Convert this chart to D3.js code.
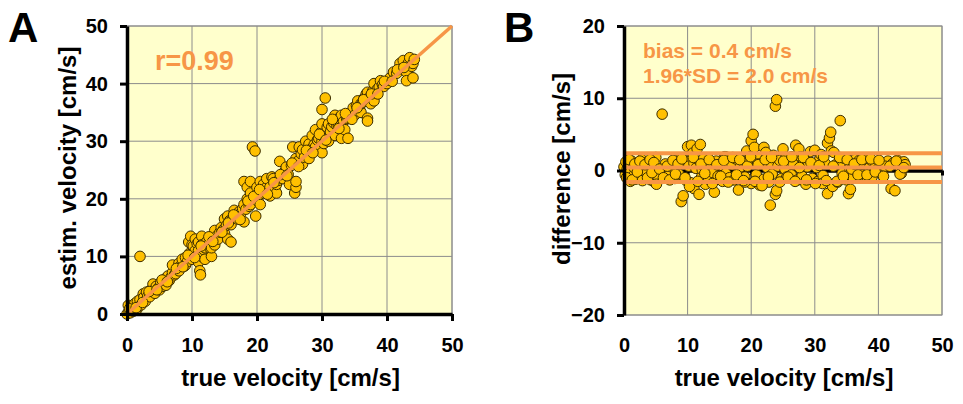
<!DOCTYPE html>
<html>
<head>
<meta charset="utf-8">
<script src="https://cdn.jsdelivr.net/npm/d3@7"></script>
<style>
    body { margin: 0; background: #fff; }
    text { font-family: "Liberation Sans", Arial, sans-serif; font-weight: bold; }
</style>
</head>
<body>
<div id="chart"></div>
<script>
// Data

    // panel A: true velocity vs estimated velocity [cm/s]
    var trueVel = [
        0, 0.2, 0.3, 0.5, 0.6, 0.8, 1, 1.1, 1.2, 1.5, 1.6, 1.8, 2, 2, 2.2, 2.5, 2.6, 2.8, 3, 3.2,
        3.5, 3.7, 4, 4, 4.3, 4.5, 4.8, 5, 5.2, 5.5, 5.7, 6, 6, 6.3, 6.5, 6.8, 7, 7, 7.3, 7.5,
        7.8, 8, 8, 8.3, 8.5, 8.8, 9, 9, 9.3, 9.5, 9.6, 9.8, 10, 10, 10, 10.2, 10.5, 10.5, 10.8, 11,
        11, 11, 11.2, 11.3, 11.5, 11.5, 11.5, 11.8, 12, 12, 12.3, 12.5, 12.8, 13, 13, 13.3, 13.5, 13.5, 13.8, 14,
        14.3, 14.5, 14.8, 15, 15, 15.3, 15.5, 15.5, 15.8, 16, 16, 16.3, 16.5, 16.8, 17, 17.3, 17.5, 17.8, 18, 18,
        18, 18.3, 18.5, 18.5, 18.8, 19, 19, 19, 19.3, 19.7, 19.8, 20, 20, 20.2, 20.5, 20.5, 20.8, 21, 21, 21.3,
        21.5, 21.8, 22, 22, 22.3, 22.5, 22.8, 23, 23, 23.3, 23.5, 23.8, 24, 24.3, 24.5, 24.8, 25, 25.3, 25.5, 25.8,
        26, 26, 26, 26.3, 26.5, 26.8, 27, 27, 27.3, 27.5, 27.8, 28, 28, 28.3, 28.5, 28.8, 29, 29, 29.3, 29.5,
        29.8, 30, 30, 30, 30, 30.3, 30.5, 30.5, 30.8, 31, 31, 31.3, 31.5, 31.8, 32, 32, 32.3, 32.5, 32.8, 33,
        33, 33.3, 33.5, 33.8, 34, 34, 34.3, 34.5, 34.8, 35, 35.3, 35.5, 35.8, 36, 36, 36.3, 36.5, 36.8, 37, 37,
        37, 37.3, 37.5, 37.8, 38, 38, 38.3, 38.5, 38.8, 39, 39.3, 39.5, 39.8, 40, 40.3, 40.5, 41, 41.5, 42, 42.5,
        43, 43, 43.3, 43.5, 43.8, 44, 44, 44.2,
        0.4, 1.4, 2.4, 3.4, 4.6, 5.4, 6.2, 7.6, 8.6, 9.4, 10.4, 11.4, 12.6, 13.2, 14.6, 15.6, 16.4, 17.4, 18.6, 19.5,
        20.4, 21.6, 22.6, 23.6, 24.6, 25.4, 26.4, 27.6, 28.6, 29.6, 30.6, 31.6, 32.6, 33.6, 34.6, 35.4, 36.4, 37.6, 38.6, 39.6,
        40.8, 41.6, 42.6
    ];
    var estimVel = [
        0, 1.5, 0.5, 0.2, 1.2, 1, 0.5, 1.6, 1.8, 0.8, 2.2, 1.3, 2.5, 10, 1.6, 3.5, 2.9, 2.2, 3.8, 3.1,
        3, 4.2, 5.2, 4, 3.6, 4.8, 4.5, 4.2, 5.5, 4.8, 5.9, 6.2, 5, 6.6, 5.8, 6.4, 7.2, 8.5, 6.8, 7,
        8.1, 8.8, 7.5, 8.4, 9.5, 8.3, 8.5, 9.8, 9.1, 12.5, 10.5, 13.5, 12, 10.5, 9.5, 11.8, 11, 13, 12.2, 12.5,
        11, 9, 7.5, 6.8, 10, 13.5, 12, 11.2, 11.5, 9.5, 12.6, 12, 11.4, 10, 11.5, 13.2, 12, 14.5, 13.5, 13,
        14.2, 15, 14.6, 16.5, 14, 15.4, 17, 13, 16.2, 15.5, 12.5, 16.6, 18, 16.7, 16.5, 17.8, 17.5, 18.3, 16, 19,
        23, 18.2, 22, 20, 18.7, 21, 19, 23, 29, 28.3, 17, 22, 20.5, 19.5, 23, 19, 21.4, 21, 22.5, 21.8,
        23.5, 21.2, 20.5, 22, 23.8, 23.5, 21.5, 21, 22.5, 23.2, 26.5, 23.6, 23.5, 24.8, 25.5, 24.2, 22.5, 25.8, 29, 21,
        22, 23, 27, 26.5, 29, 27.8, 26, 28.5, 27.2, 30, 28.3, 27, 29.5, 28.6, 31, 29.4, 29, 32, 30.2, 30.5,
        31.5, 35.5, 33, 28, 30, 29.6, 37.5, 31, 32.4, 33, 30, 31.6, 32.5, 33.2, 34.5, 31, 32.7, 33, 34.2, 34.5,
        30.5, 33.4, 32, 33.9, 34, 30.5, 34.6, 35, 35.8, 34.5, 36.2, 37, 35.5, 35, 36.5, 36.8, 37.5, 38.2, 34, 33.5,
        38.5, 37.6, 36.5, 38.7, 40, 37, 38.6, 39, 39.4, 40.5, 39.8, 39.5, 40.3, 40, 40.6, 41, 42, 41.8, 43.5, 44,
        42, 40.5, 43.6, 44.5, 43, 41, 43.5, 44.2,
        0.9, 1.1, 2, 3.9, 4.2, 5.9, 5.6, 7.9, 8.2, 10.2, 9.8, 11.8, 13.4, 12.6, 14.2, 15.8, 17.2, 16.4, 19.6, 20.4,
        21.6, 20.8, 22.8, 24.2, 24, 26.2, 25.6, 28.4, 28, 31.2, 30.2, 33.8, 32.2, 34.8, 33.8, 35.8, 37.2, 38.2, 38.2, 40.4,
        40.4, 42.4, 42.8
    ];

    // panel B: mean velocity vs difference [cm/s]
    var meanVel = [
        0, 0.2, 0.3, 0.5, 0.7, 0.9, 1, 1.2, 1.4, 1.6, 1.8, 2, 2.2, 2.4, 2.6, 2.8, 3, 3.2, 3.5, 3.8,
        4, 4.2, 4.5, 4.8, 5, 5.3, 6, 6.5, 7, 7.5, 8, 8.3, 8.6, 9, 9.3, 9.5, 9.8, 10, 10.2, 10.5,
        10.6, 10.8, 11, 11, 11.3, 11.5, 11.8, 12, 12.2, 12.5, 12.8, 13, 13.3, 13.6, 14, 14.2, 14.5, 14.8, 15, 15.5,
        15.8, 16, 16.3, 16.6, 17, 17.3, 17.6, 18, 18.3, 18.6, 19, 19.3, 19.6, 20, 20, 20.3, 20.5, 20.8, 21, 21.3,
        21.6, 22, 22, 22.3, 22.5, 22.8, 23, 23, 23.3, 23.5, 23.8, 23.8, 24, 24, 24.2, 24.5, 24.8, 25, 25.3, 25.6,
        26, 26.3, 26.6, 27, 27.3, 27.5, 27.8, 28, 28.3, 28.6, 29, 29.3, 29.6, 30, 30.3, 30.5, 30.8, 31, 31.3, 31.6,
        32, 32, 32.3, 32.5, 32.6, 32.8, 33, 33.3, 33.6, 34, 34, 34.3, 34.6, 35, 35.3, 35.5, 35.8, 36, 36.3, 36.6,
        37, 37.3, 37.6, 38, 38.3, 38.6, 39, 39.3, 39.6, 40, 40.3, 40.6, 41, 41.5, 42, 42.3, 42.6, 43, 43.3, 43.6,
        44, 44.2, 1, 3.5, 5, 8.8, 12.3, 16, 19, 21, 25.5, 28.8, 31.2, 35.8, 39, 41,
        0.4, 0.8, 1.3, 1.7, 2.1, 2.5, 2.9, 3.3, 3.7, 4.1, 4.4, 4.7, 5.1, 5.6, 6.2, 6.8, 7.2, 7.7, 8.1, 8.5,
        9.1, 9.6, 10.3, 10.9, 11.6, 12.1, 12.7, 13.4, 13.9, 14.6, 15.2, 15.7, 16.4, 17.1, 17.7, 18.2, 18.8, 19.4, 19.9, 20.6,
        21.1, 21.7, 22.2, 22.7, 23.2, 24.5, 25.1, 25.8, 26.4, 26.9, 27.6, 28.2, 28.7, 29.4, 30.1, 30.7, 31.4, 31.8, 32.9, 33.5,
        33.9, 34.5, 35.1, 35.6, 36.2, 36.8, 37.4, 38.2, 38.8, 39.5, 40.1, 40.8, 41.8, 42.8, 43.4, 44
    ];
    var diffVel = [
        0.5, -0.6, 1.2, 0.2, -1, 0.8, -0.3, 1.3, -0.8, 0.4, -1.2, 1, -0.5, 0.7, -0.9, 1.5, 0.1, -0.6, 1.1, -0.4,
        0.6, -1.3, 1.4, -1.6, 0.3, -0.8, 7.8, 0.9, -0.7, 0.5, -1.1, 1.2, -0.5, -4.3, -3.5, 1.4, -1.4, 3.3, 0.6, -1.7,
        3.5, 2.4, -2.5, 1, 0.3, 3, -3.3, 3.6, -0.9, 1.6, -1.9, 0.4, -1.2, 1.1, -0.3, -3, 1.3, -0.8, 0.7, -1.5,
        1.9, -0.4, 1.2, -1, 0.8, -1.3, 1.6, -2.7, 0.5, 1.3, -0.9, 2.7, 1.1, 4.1, -1.8, 5, 3.2, -0.6, 1.7, -2,
        0.9, 3.2, -1.2, 2.5, 0.4, -1.6, -4.8, 1.2, -0.5, 2.1, 8.9, -3.3, 9.8, -2.8, 0.6, 1.4, -1.1, 3, 0.2, -0.9,
        1.5, -0.6, 0.9, 3.5, -1.3, 3, 1.9, -0.8, 1.3, -1.9, 0.7, 2.6, -1.1, 2.8, 0.4, -1.5, 1.6, 2.2, -0.7, 1,
        3.8, -3.2, 4.5, 5.3, 2.7, -2.2, 2.5, 0.8, -1.6, 6.9, 1.1, -0.4, 1.7, -1.3, -3.2, 0.3, 1.2, -0.9, 1.5, -0.2,
        1.4, -0.6, 0.9, 1.6, -1, 0.4, 1.3, -0.3, 0.8, 0.3, 1.1, -0.5, 0.7, 1.3, -2.5, 1, -2.8, 1.4, 0.6, -0.4,
        1.2, 0.8, -1.5, -0.2, 1.8, 1.6, 0.1, 1.9, -1.6, 0.9, 1.8, 0.5, -1.8, 0.2, -0.9, 0.6,
        -1, 1.5, -1.3, 0.9, -0.2, 1.3, -1.4, 0.8, -1, 1.5, -0.3, 1.1, -1.9, 0.2, -1, 0.6, -1.3, 1.4, -0.5, 0.9,
        1.6, -1, -2.2, 1.8, -1.5, 0.9, -0.4, 1.5, -1.8, 0.8, -0.8, 1.4, -1.6, 1.8, -0.6, 1.5, -1.4, 0.6, 1.9, -1.5,
        0.8, -2.1, 1.5, -0.9, 1.8, -1.6, 1.3, -0.9, 1.9, -1.5, 0.4, 1.8, -1.3, 1.1, -1.8, 0.7, 1.9, -1.4, 0.6, -1.5,
        1.8, -0.8, 1.5, -2.6, 0.9, -0.6, 1.5, -0.6, 1.6, -0.2, 1.4, -0.8, 0.6, 1.3, -0.5, 0.4
    ];

    // Bland-Altman summary
    var bias = 0.4;
    var limit = 2.0;

    // tick labels
    var velTicks = [0, 10, 20, 30, 40, 50];
    var diffTicks = [-20, -10, 0, 10, 20];


// Constants setup

    var svgWidth  = 963;
    var svgHeight = 404;

    var plotA = { left: 127, right: 452, top: 26, bottom: 314 };
    var plotB = { left: 624, right: 942, top: 26, bottom: 315 };

    var bgColor     = "#ffffcc";
    var gridColor   = "#8c8c8c";
    var dotFill     = "#ffc000";
    var dotStroke   = "#3d2e00";
    var orange      = "#f79646";


// Start of SVG

    var svg = d3.select("#chart")
        .append("svg")
            .attr("width", svgWidth)
            .attr("height", svgHeight);


    // scales
    var xA = d3.scaleLinear().domain([0, 50]).range([plotA.left, plotA.right]);
    var yA = d3.scaleLinear().domain([0, 50]).range([plotA.bottom, plotA.top]);
    var xB = d3.scaleLinear().domain([0, 50]).range([plotB.left, plotB.right]);
    var yB = d3.scaleLinear().domain([-20, 20]).range([plotB.bottom, plotB.top]);


    // background + grid for a panel
    function drawFrame(x, y, xTicks, yTicks) {
        var g = svg.append("g");

        g.append("rect")
            .attr("x", x.range()[0])
            .attr("y", y.range()[1])
            .attr("width", x.range()[1] - x.range()[0])
            .attr("height", y.range()[0] - y.range()[1])
            .attr("fill", bgColor)
            .attr("stroke", gridColor)
            .attr("stroke-width", 1);

        g.selectAll(".vgrid")
            .data(xTicks)
            .enter()
            .append("line")
                .attr("x1", function(d) { return x(d); })
                .attr("x2", function(d) { return x(d); })
                .attr("y1", y.range()[0])
                .attr("y2", y.range()[1])
                .attr("stroke", gridColor)
                .attr("stroke-width", 1);

        g.selectAll(".hgrid")
            .data(yTicks)
            .enter()
            .append("line")
                .attr("x1", x.range()[0])
                .attr("x2", x.range()[1])
                .attr("y1", function(d) { return y(d); })
                .attr("y2", function(d) { return y(d); })
                .attr("stroke", gridColor)
                .attr("stroke-width", 1);
    }

    function styleAxis(g) {
        g.select(".domain").attr("stroke", "#000").attr("stroke-width", 3.5);
        g.selectAll(".tick line").attr("stroke", "#000").attr("stroke-width", 3);
        g.selectAll(".tick text")
            .attr("fill", "#000")
            .style("font-size", "20px")
            .style("font-weight", "bold")
            .style("font-family", "'Liberation Sans', Arial, sans-serif");
    }

    function drawDots(x, y, xs, ys) {
        svg.append("g")
            .selectAll("circle")
            .data(xs)
            .enter()
            .append("circle")
                .attr("cx", function(d) { return x(d); })
                .attr("cy", function(d, i) { return y(ys[i]); })
                .attr("r", 5.3)
                .attr("fill", dotFill)
                .attr("stroke", dotStroke)
                .attr("stroke-width", 1);
    }


// Panel A

    drawFrame(xA, yA, velTicks, velTicks);

    // dots
    drawDots(xA, yA, trueVel, estimVel);

    // identity line
    svg.append("path")
        .datum([0, 50])
        .attr("d", d3.line()
            .x(function(d) { return xA(d); })
            .y(function(d) { return yA(d); }))
        .attr("fill", "none")
        .attr("stroke", orange)
        .attr("stroke-width", 3.5);

    // axes
    svg.append("g")
        .attr("transform", "translate(0," + plotA.bottom + ")")
        .call(d3.axisBottom(xA).tickValues(velTicks).tickSize(7).tickPadding(17).tickSizeOuter(0))
        .call(styleAxis);

    svg.append("g")
        .attr("transform", "translate(" + plotA.left + ",0)")
        .call(d3.axisLeft(yA).tickValues(velTicks).tickSize(7).tickPadding(12).tickSizeOuter(0))
        .call(styleAxis);

    // texts
    svg.append("text")
        .attr("x", 8).attr("y", 42)
        .style("font-size", "42px")
        .text("A");

    svg.append("text")
        .attr("x", 155).attr("y", 70)
        .attr("fill", orange)
        .style("font-size", "27px")
        .text("r=0.99");

    svg.append("text")
        .attr("x", (plotA.left + plotA.right) / 2 + 1).attr("y", 386)
        .attr("text-anchor", "middle")
        .style("font-size", "24px")
        .text("true velocity [cm/s]");

    svg.append("text")
        .attr("transform", "translate(76," + 168 + ") rotate(-90)")
        .attr("text-anchor", "middle")
        .style("font-size", "24px")
        .text("estim. velocity [cm/s]");


// Panel B

    drawFrame(xB, yB, velTicks, diffTicks);

    // zero axis (crosses at 0)
    svg.append("g")
        .attr("transform", "translate(0," + yB(0) + ")")
        .call(d3.axisBottom(xB).tickValues(velTicks).tickSize(5).tickFormat("").tickSizeOuter(0))
        .call(styleAxis);

    // dots
    drawDots(xB, yB, meanVel, diffVel);

    // bias and limits of agreement
    var limitLines = [bias + limit, bias, bias - limit];
    svg.append("g")
        .selectAll("line")
        .data(limitLines)
        .enter()
        .append("line")
            .attr("x1", xB(0))
            .attr("x2", xB(50))
            .attr("y1", function(d) { return yB(d); })
            .attr("y2", function(d) { return yB(d); })
            .attr("stroke", orange)
            .attr("stroke-width", 4);

    // axes
    svg.append("g")
        .attr("transform", "translate(" + plotB.left + ",0)")
        .call(d3.axisLeft(yB).tickValues(diffTicks).tickSize(7).tickPadding(12).tickSizeOuter(0))
        .call(styleAxis);

    // x tick labels (no line at the bottom)
    svg.append("g")
        .attr("transform", "translate(0," + plotB.bottom + ")")
        .call(d3.axisBottom(xB).tickValues(velTicks).tickSize(0).tickPadding(23))
        .call(styleAxis)
        .call(function(g) { g.select(".domain").remove(); });

    // texts
    svg.append("text")
        .attr("x", 504).attr("y", 42)
        .style("font-size", "42px")
        .text("B");

    svg.append("text")
        .attr("x", 643).attr("y", 58)
        .attr("fill", orange)
        .style("font-size", "21px")
        .text("bias = " + bias.toFixed(1) + " cm/s");

    svg.append("text")
        .attr("x", 643).attr("y", 83)
        .attr("fill", orange)
        .style("font-size", "21px")
        .text("1.96*SD = " + limit.toFixed(1) + " cm/s");

    svg.append("text")
        .attr("x", (plotB.left + plotB.right) / 2 + 1).attr("y", 386)
        .attr("text-anchor", "middle")
        .style("font-size", "24px")
        .text("true velocity [cm/s]");

    svg.append("text")
        .attr("transform", "translate(570," + 169 + ") rotate(-90)")
        .attr("text-anchor", "middle")
        .style("font-size", "24px")
        .text("difference [cm/s]");

</script>
</body>
</html>
